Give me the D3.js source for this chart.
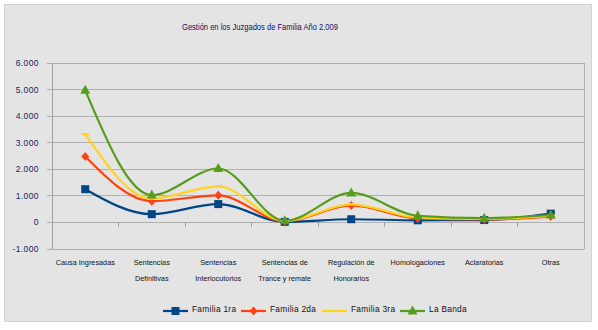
<!DOCTYPE html>
<html><head><meta charset="utf-8">
<script src="https://cdn.jsdelivr.net/npm/d3@7"></script>
<style>html,body{margin:0;padding:0;background:#fff;}svg{display:block;}</style>
</head><body>
<svg id="c" width="598" height="330"></svg>
<script>
const categories = ["Causa Ingresadas","Sentencias Definitivas","Sentencias Interlocutorios","Sentencias de Trance y remate","Regulación de Honorarios","Homologaciones","Aclaratorias","Otras"];
const categoryLines = [["Causa Ingresadas"],["Sentencias","Definitivas"],["Sentencias","Interlocutorios"],["Sentencias de","Trance y remate"],["Regulación de","Honorarios"],["Homologaciones"],["Aclaratorias"],["Otras"]];
const familia1 = [1250, 310, 690, 20, 120, 80, 90, 330];
const familia2 = [2480, 800, 1020, 40, 640, 150, 110, 220];
const familia3 = [3320, 900, 1360, 50, 680, 180, 130, 250];
const laBanda  = [4970, 1030, 2030, 60, 1110, 250, 160, 280];
const seriesNames = ["Familia 1ra","Familia 2da","Familia 3ra","La Banda"];
const yTicks = [-1000,0,1000,2000,3000,4000,5000,6000];
const tickLabels = ["-1.000","0","1.000","2.000","3.000","4.000","5.000","6.000"];
const title = "Gestión en los Juzgados de Familia Año 2.009";

const colors = ["#004586","#ff420e","#ffd320","#579d1c"];
const markers = ["square","diamond","dash","triangle"];
const series = [familia1,familia2,familia3,laBanda].map((v,i)=>({name:seriesNames[i],values:v,color:colors[i],marker:markers[i]}));

const svg = d3.select("#c");
const font = "Liberation Sans, Arial, sans-serif";
const textColor = "#1a1a5a";

svg.append("rect").attr("x",4.5).attr("y",4.5).attr("width",587).attr("height",317)
  .attr("fill","#e4e4e4").attr("stroke","#d2d2d2").attr("stroke-width",1);

svg.append("text").attr("x",260).attr("y",30).attr("text-anchor","middle")
  .attr("font-family",font).attr("font-size",9.5).attr("fill","#10106a")
  .attr("textLength",156).attr("lengthAdjust","spacingAndGlyphs").text(title);

const pLeft = 52, pRight = 584, pTop = 63, pBottom = 249;
const x = d3.scaleBand().domain(categories).range([pLeft,pRight]);
const y = d3.scaleLinear().domain([-1000,6000]).range([pBottom,pTop]);

const g = svg.append("g");
g.selectAll("line.grid").data(yTicks).join("line")
  .attr("x1",pLeft-5).attr("x2",pRight).attr("y1",d=>y(d)).attr("y2",d=>y(d))
  .attr("stroke","#b0b0b0").attr("stroke-width",1).attr("shape-rendering","crispEdges");
g.append("line").attr("x1",pRight).attr("x2",pRight).attr("y1",pTop).attr("y2",pBottom)
  .attr("stroke","#b0b0b0").attr("shape-rendering","crispEdges");
g.append("line").attr("x1",pLeft).attr("x2",pLeft).attr("y1",pTop).attr("y2",pBottom)
  .attr("stroke","#a0a0a0").attr("shape-rendering","crispEdges");
const bounds = categories.slice(1).map(c=>x(c));
g.selectAll("line.xt").data(bounds).join("line")
  .attr("x1",d=>d).attr("x2",d=>d).attr("y1",y(0)).attr("y2",y(0)+5)
  .attr("stroke","#a0a0a0").attr("shape-rendering","crispEdges");

g.selectAll("text.yl").data(yTicks).join("text")
  .attr("x",39).attr("y",d=>y(d)+3).attr("text-anchor","end")
  .attr("font-family",font).attr("font-size",8.5).attr("fill",textColor)
  .attr("letter-spacing",0.4)
  .text((d,i)=>tickLabels[i]);

categories.forEach((c,i)=>{
  const cx = x(c)+x.bandwidth()/2;
  categoryLines[i].forEach((ln,j)=>{
    g.append("text").attr("x",cx).attr("y",265+j*16).attr("text-anchor","middle")
     .attr("font-family",font).attr("font-size",7.3).attr("fill","#111")
     .text(ln);
  });
});

const line = d3.line().x((d,i)=>x(categories[i])+x.bandwidth()/2).y(d=>y(d)).curve(d3.curveMonotoneX);

function drawMarker(sel, type, color, cx, cy){
  if(type==="square"){
    sel.append("rect").attr("x",cx-4).attr("y",cy-4).attr("width",8).attr("height",8).attr("fill",color);
  } else if(type==="diamond"){
    sel.append("path").attr("d",`M${cx},${cy-4.5}L${cx+4},${cy}L${cx},${cy+4.5}L${cx-4},${cy}Z`).attr("fill",color);
  } else if(type==="triangle"){
    sel.append("path").attr("d",`M${cx},${cy-5.5}L${cx+5},${cy+3.5}L${cx-5},${cy+3.5}Z`).attr("fill",color);
  } else if(type==="dash"){
    sel.append("rect").attr("x",cx-4).attr("y",cy-1.2).attr("width",8).attr("height",2.4).attr("fill",color);
  }
}

series.forEach(s=>{
  g.append("path").datum(s.values).attr("d",line).attr("fill","none")
   .attr("stroke",s.color).attr("stroke-width",2.2);
});
series.forEach(s=>{
  const mg = g.append("g");
  s.values.forEach((v,i)=>drawMarker(mg, s.marker, s.color, x(categories[i])+x.bandwidth()/2, y(v)));
});

const legendX = [163, 241, 322, 400];
series.forEach((s,i)=>{
  const lx = legendX[i], ly = 311;
  const lg = svg.append("g");
  lg.append("line").attr("x1",lx).attr("x2",lx+25).attr("y1",ly).attr("y2",ly)
    .attr("stroke",s.color).attr("stroke-width",2.2);
  if(s.marker!=="dash") drawMarker(lg, s.marker, s.color, lx+12.5, ly);
  lg.append("text").attr("x",lx+29).attr("y",ly+1).attr("font-family",font)
    .attr("font-size",8.3).attr("fill","#111").attr("letter-spacing",0.3).text(s.name);
});
</script>
</body></html>
